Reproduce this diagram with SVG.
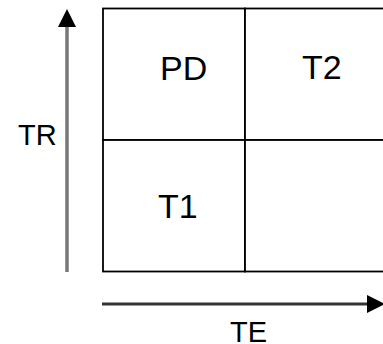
<svg xmlns="http://www.w3.org/2000/svg" width="383" height="344" viewBox="0 0 383 344">
<style>
.cell{fill:#fff;stroke:#000;stroke-width:1.8}
.big{font-family:"Liberation Sans",Arial,sans-serif;font-size:34px;fill:#000}
.ax{font-family:"Liberation Sans",Arial,sans-serif;font-size:29px;fill:#000}
</style>
<defs>
<marker id="ah" markerWidth="18" markerHeight="18" refX="0" refY="9" orient="auto" markerUnits="userSpaceOnUse" viewBox="0 0 18 18">
<path d="M0,0 L18,9 L0,18 Z" fill="#000"/>
</marker>
</defs>
<rect width="383" height="344" fill="#fff"/>
<g id="grid">
<g id="PD"><rect class="cell" x="103" y="8.5" width="142" height="131.5"/><text class="big" x="160" y="80">PD</text></g>
<g id="T2"><rect class="cell" x="245" y="8.5" width="142" height="131.5"/><text class="big" x="302" y="79">T2</text></g>
<g id="T1"><rect class="cell" x="103" y="140" width="142" height="131.5"/><text class="big" x="158" y="218">T1</text></g>
<g id="empty"><rect class="cell" x="245" y="140" width="142" height="131.5"/></g>
</g>
<g id="connectors">
<line x1="67" y1="272" x2="67" y2="27" stroke="#777" stroke-width="3.5" marker-end="url(#ah)"/>
<line x1="102" y1="304" x2="367" y2="304" stroke="#333" stroke-width="3" marker-end="url(#ah)"/>
</g>
<g id="labels">
<text class="ax" x="18" y="145">TR</text>
<text class="ax" x="230" y="341.5">TE</text>
</g>
</svg>
